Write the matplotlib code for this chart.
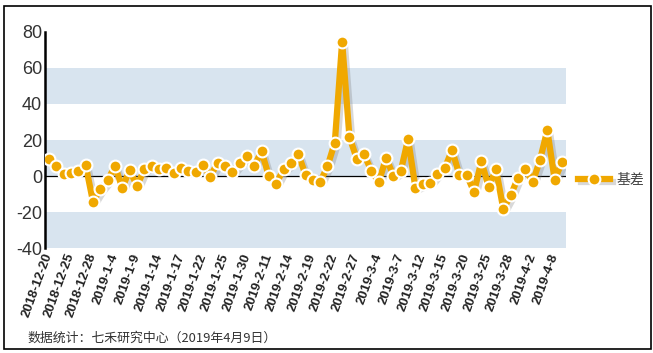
import matplotlib
matplotlib.use("Agg")
import matplotlib.pyplot as plt
import matplotlib.patheffects as pe
from matplotlib.patches import Rectangle
from matplotlib.lines import Line2D

plt.rcParams['font.family'] = ['Liberation Sans', 'Noto Sans CJK SC', 'DejaVu Sans']

tick_labels = ["2018-12-20", "2018-12-25", "2018-12-28", "2019-1-4", "2019-1-9", "2019-1-14",
               "2019-1-17", "2019-1-22", "2019-1-25", "2019-1-30", "2019-2-11", "2019-2-14",
               "2019-2-19", "2019-2-22", "2019-2-27", "2019-3-4", "2019-3-7", "2019-3-12",
               "2019-3-15", "2019-3-20", "2019-3-25", "2019-3-28", "2019-4-2", "2019-4-8"]

basis = [9.2, 5.4, 1.3, 1.8, 3.0, 6.1, -14.2, -7.4, -2.4, 5.7,
         -6.6, 3.5, -5.5, 3.7, 5.7, 3.7, 4.6, 1.8, 4.4, 3.0,
         2.0, 6.1, -0.3, 7.4, 5.7, 2.2, 7.0, 11.1, 5.7, 13.7,
         0.0, -4.1, 3.7, 7.0, 12.4, 0.7, -2.2, -3.3, 5.4, 18.6,
         74.4, 21.6, 9.6, 12.0, 2.8, -3.3, 10.1, 0.2, 2.8, 20.5,
         -6.5, -4.6, -3.7, 1.3, 4.4, 14.4, 0.6, 0.6, -8.7, 8.1,
         -5.9, 3.7, -18.3, -10.7, -0.9, 4.1, -3.3, 8.9, 25.5, -2.0,
         7.7]

series_name = "基差"
source_text = "数据统计：七禾研究中心（2019年4月9日）"

line_color = '#F0A800'
band_color = '#D8E4EF'

fig = plt.figure(figsize=(6.53, 3.53), dpi=100)
ax = fig.add_axes([45/653, 1 - 248.3/353, (566-45)/653, (248.3-31.7)/353])

n = len(basis)
x = list(range(n))
ax.set_xlim(-0.55, n - 1 + 0.55)
ax.set_ylim(-40, 80)

for lo, hi in [(40, 60), (0, 20), (-40, -20)]:
    ax.axhspan(lo, hi, color=band_color, zorder=0, lw=0)

ax.axhline(0, color='black', lw=0.9, zorder=1)

shadow = [pe.SimpleLineShadow(offset=(2, -2), shadow_color='gray', alpha=0.3), pe.Normal()]

ax.plot(x, basis, color=line_color, lw=4.5, solid_joinstyle='round', solid_capstyle='round',
        zorder=3, path_effects=shadow)
ax.plot(x, basis, linestyle='none', marker='o', markersize=8.5,
        markerfacecolor=line_color, markeredgecolor='white', markeredgewidth=1.5, zorder=4)

for s in ['top', 'right', 'bottom']:
    ax.spines[s].set_visible(False)
ax.spines['left'].set_linewidth(1.8)
ax.spines['left'].set_color('black')

ax.set_yticks([-40, -20, 0, 20, 40, 60, 80])
ax.set_yticklabels(['-40', '-20', '0', '20', '40', '60', '80'], fontsize=13, color='#333333')
ax.tick_params(axis='y', length=0, pad=2)

ax.set_xticks(x[::3])
ax.set_xticklabels(tick_labels, rotation=70, fontsize=9.5, fontweight='bold', color='#222222',
                   ha='right', va='center', rotation_mode='anchor')
ax.tick_params(axis='x', length=0, pad=4)

h_line = Line2D([], [], color=line_color, lw=4.5, path_effects=shadow)
h_mark = Line2D([], [], linestyle='none', marker='o', markersize=8.5,
                markerfacecolor=line_color, markeredgecolor='white', markeredgewidth=1.5)
fig.legend([(h_line, h_mark)], [series_name], loc='center left',
           bbox_to_anchor=(578/653, 1 - 180/353), frameon=False, borderpad=0, borderaxespad=0,
           fontsize=10, handlelength=2.3, handletextpad=0.5, labelcolor='#444444')

fig.text(27/653, 1 - 338/353, source_text, fontsize=9.3, color='#333333',
         family=['Noto Sans CJK SC', 'DejaVu Sans'], va='center')

fig.patches.append(Rectangle((3.5/653, 1 - 348.5/353), (650.5-3.5)/653, (348.5-5.5)/353,
                             transform=fig.transFigure, fill=False, edgecolor='black', lw=1.2))

fig.savefig('out.png', dpi=100)
